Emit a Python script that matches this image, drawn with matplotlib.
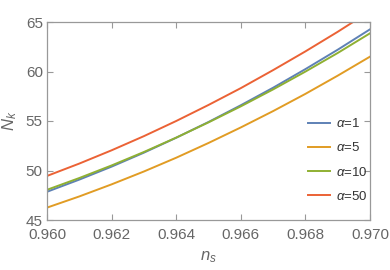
import matplotlib
matplotlib.use("Agg")
import matplotlib.pyplot as plt
import numpy as np

ns = [0.960, 0.961, 0.962, 0.963, 0.964, 0.965, 0.966, 0.967, 0.968, 0.969, 0.970]
N_a1 = [47.85, 49.08, 50.39, 51.80, 53.31, 54.90, 56.59, 58.36, 60.24, 62.20, 64.26]
N_a5 = [46.25, 47.38, 48.60, 49.90, 51.29, 52.78, 54.35, 56.00, 57.74, 59.58, 61.50]
N_a10 = [48.05, 49.24, 50.51, 51.87, 53.32, 54.86, 56.48, 58.19, 59.99, 61.87, 63.86]
N_a50 = [49.45, 50.70, 52.04, 53.47, 55.00, 56.62, 58.32, 60.14, 62.03, 64.01, 66.09]
labels = [r"$\alpha$=1", r"$\alpha$=5", r"$\alpha$=10", r"$\alpha$=50"]
colors = ["#5E81B5", "#E19C24", "#8FB032", "#EB6235"]
xticks = [0.960, 0.962, 0.964, 0.966, 0.968, 0.970]
yticks = [45, 50, 55, 60, 65]

plt.rcParams['font.family'] = ['Liberation Sans', 'DejaVu Sans']
plt.rcParams['mathtext.fontset'] = 'custom'
plt.rcParams['mathtext.rm'] = 'Liberation Sans'
plt.rcParams['mathtext.it'] = 'Liberation Sans:italic'

fig = plt.figure(figsize=(3.9, 2.7), dpi=100)
ax = fig.add_axes([47/390, 1-220/270, 323/390, 198/270])
for ys, lab, c in zip([N_a1, N_a5, N_a10, N_a50], labels, colors):
    ax.plot(ns, ys, color=c, lw=1.4, label=lab)
ax.set_xlim(0.960, 0.970)
ax.set_ylim(45, 65)
ax.set_xticks(xticks)
ax.set_xticklabels(["%.3f" % v for v in xticks])
ax.set_yticks(yticks)
gray = "#999999"
tcol = "#666666"
for s in ax.spines.values():
    s.set_color(gray)
    s.set_linewidth(0.9)
ax.tick_params(direction="in", length=4, width=0.8, color=gray, labelcolor=tcol,
               labelsize=11, top=True, right=True)
ax.tick_params(axis='x', pad=6)
ax.tick_params(axis='y', pad=3)
ax.set_xlabel(r"$n_s$", color=tcol, fontsize=12, labelpad=5)
ax.set_ylabel(r"$N_k$", color=tcol, fontsize=12, labelpad=5)
leg = ax.legend(loc="center right", bbox_to_anchor=(1.022, 0.303), frameon=False,
                fontsize=9.5, handlelength=1.67, handletextpad=0.45, labelspacing=0.85,
                borderaxespad=0.3, labelcolor="#333333")
fig.savefig("out.png", dpi=100)
